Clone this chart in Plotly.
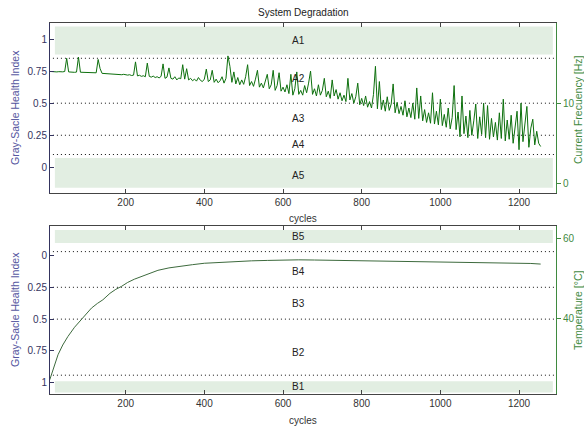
import plotly.graph_objects as go

# ---------------- data ----------------
cycles_top = list(range(10, 1256, 5))
freq_hz = [
    13.95, 13.92, 13.96, 13.90, 13.93, 13.88, 13.91, 13.95, 15.60, 13.90,
    13.87, 13.90, 13.85, 13.88, 15.75, 13.86, 13.84, 13.82, 13.85, 13.80,
    13.78, 13.80, 13.76, 13.79, 15.45, 14.30, 13.72, 13.70, 13.74, 13.68,
    13.70, 13.66, 13.60, 13.64, 13.58, 13.62, 13.55, 13.60, 13.52, 13.50,
    13.55, 13.45, 13.50, 15.15, 13.40, 13.48, 13.35, 13.42, 13.30, 15.00,
    13.35, 13.25, 13.38, 13.20, 13.30, 13.15, 13.35, 14.90, 13.10, 13.25,
    14.40, 13.10, 13.00, 13.30, 12.90, 13.15, 13.05, 14.80, 13.00, 14.30,
    12.90, 13.10, 12.80, 13.00, 12.75, 13.20, 12.85, 12.70, 13.00, 14.25,
    12.70, 12.90, 14.10, 12.60, 13.00, 12.55, 12.80, 13.30, 12.50, 13.10,
    15.90, 14.60, 12.60, 13.90, 12.40, 13.20, 12.30, 12.90, 12.35, 13.30,
    14.80, 12.20, 12.70, 12.10, 13.00, 14.10, 12.00, 12.50, 11.90, 12.80,
    13.60, 11.80, 12.30, 14.10, 11.60, 12.20, 13.80, 11.50, 12.00, 11.40,
    12.30, 11.20, 13.60, 11.00, 11.80, 13.90, 11.10, 11.60, 11.00, 12.20,
    11.30, 12.50, 14.00, 11.10, 11.80, 10.90, 12.30, 11.00, 11.60, 13.10,
    10.80, 11.50, 10.60, 12.90, 10.90, 11.70, 10.50, 11.30, 10.30, 11.00,
    10.20, 13.10, 10.40, 11.20, 10.00, 10.80, 12.50, 9.80, 10.60, 9.70,
    10.90, 9.50, 10.20, 9.40, 11.10, 14.60, 9.30, 12.70, 9.20, 10.40,
    9.00, 10.80, 9.10, 9.90, 12.40, 8.80, 10.10, 8.70, 9.60, 8.50,
    10.30, 8.30, 9.40, 8.20, 10.00, 8.00, 11.90, 8.10, 10.90, 7.80,
    9.20, 7.60, 8.80, 7.50, 11.30, 7.40, 9.00, 7.30, 10.50, 7.20,
    8.60, 7.00, 9.40, 6.80, 8.20, 12.20, 6.70, 8.90, 5.80, 10.90,
    6.20, 8.40, 5.70, 9.10, 6.00, 7.80, 9.90, 5.60, 8.30, 6.10,
    10.00, 5.70, 9.70, 5.50, 8.10, 5.80, 7.60, 5.40, 8.80, 5.60,
    10.50, 5.30, 7.90, 5.50, 8.50, 5.00, 7.40, 9.00, 4.20, 10.00,
    5.20, 7.80, 9.60, 4.50, 6.90, 8.00, 4.80, 6.50, 5.00, 4.60,
]

cycles_bottom = [7, 15, 28, 40, 53, 70, 87, 100, 113, 128, 142, 160, 175, 189,
                 205, 222, 240, 260, 282, 310, 341, 370, 400, 440, 474, 520,
                 560, 600, 640, 680, 720, 760, 800, 840, 880, 920, 960, 1000,
                 1040, 1080, 1120, 1160, 1200, 1230, 1255]
temp_c = [24.9, 27.2, 31.1, 33.5, 35.6, 37.9, 39.75, 41.2, 42.65, 43.8, 44.7,
          46.3, 47.3, 48.0, 49.0, 49.8, 50.5, 51.3, 52.0, 52.6, 53.1, 53.4,
          53.75, 54.0, 54.2, 54.35, 54.45, 54.55, 54.6, 54.55, 54.5, 54.45,
          54.4, 54.35, 54.3, 54.2, 54.05, 54.1, 54.0, 53.95, 53.9, 53.85,
          53.75, 53.7, 53.55]

x_ticks = [200, 400, 600, 800, 1000, 1200]
hi_ticks = [0, 0.25, 0.5, 0.75, 1]
hi_ticklabels = ["0", "0.25", "0.5", "0.75", "1"]
freq_ticks = [0, 10]
temp_ticks = [40, 60]

# zones (health-index units)
top_bands = [(0.88, 1.097), (-0.16, 0.073)]
top_dotted = [0.85, 0.5, 0.25, 0.1]
top_labels = [("A1", 0.985), ("A2", 0.69), ("A3", 0.377), ("A4", 0.18), ("A5", -0.06)]
bot_bands = [(-0.2, -0.097), (0.987, 1.075)]
bot_dotted = [-0.03, 0.25, 0.5, 0.94]
bot_labels = [("B5", -0.15), ("B4", 0.125), ("B3", 0.38), ("B2", 0.76), ("B1", 1.03)]

# ---------------- layout constants ----------------
W, H = 584, 429
FONT = "Liberation Sans, Arial, sans-serif"
LEFT_COL = "#34345e"
LEFT_TITLE_COL = "#5656a0"
RIGHT_COL = "#3f8a3f"
AX_COL = "#444444"
BAND_COL = "#e2eee2"

x_dom = [50 / W, 556 / W]
top_dom = [1 - 193 / H, 1 - 23 / H]
bot_dom = [1 - 394.3 / H, 1 - 225.5 / H]
x_range = [7.6, 1294]

fig = go.Figure()
fig.add_trace(go.Scatter(x=[], y=[], xaxis="x", yaxis="y", showlegend=False))
fig.add_trace(go.Scatter(x=cycles_top, y=freq_hz, xaxis="x", yaxis="y2", mode="lines",
                         line=dict(color="#0d700d", width=1), showlegend=False))
fig.add_trace(go.Scatter(x=[], y=[], xaxis="x2", yaxis="y3", showlegend=False))
fig.add_trace(go.Scatter(x=cycles_bottom, y=temp_c, xaxis="x2", yaxis="y4", mode="lines",
                         line=dict(color="#3d6a3d", width=1), showlegend=False))

shapes = []
band_x = [20, 1286]
for lo, hi in top_bands:
    shapes.append(dict(type="rect", xref="x", yref="y", x0=band_x[0], x1=band_x[1], y0=lo, y1=hi,
                       fillcolor=BAND_COL, line=dict(width=0), layer="below"))
for v in top_dotted:
    shapes.append(dict(type="line", xref="x", yref="y", x0=15, x1=1292, y0=v, y1=v,
                       line=dict(color="#111111", width=1, dash="1px,3px"), layer="below"))
for lo, hi in bot_bands:
    shapes.append(dict(type="rect", xref="x2", yref="y3", x0=band_x[0], x1=band_x[1], y0=lo, y1=hi,
                       fillcolor=BAND_COL, line=dict(width=0), layer="below"))
for v in bot_dotted:
    shapes.append(dict(type="line", xref="x2", yref="y3", x0=15, x1=1292, y0=v, y1=v,
                       line=dict(color="#111111", width=1, dash="1px,3px"), layer="below"))


def note(text, x, y, xref="paper", yref="paper", size=10, color="#222222", angle=0):
    return dict(text=text, x=x, y=y, xref=xref, yref=yref, showarrow=False,
                xanchor="center", yanchor="middle", textangle=angle,
                font=dict(size=size, color=color, family=FONT))


annotations = []
for t, v in top_labels:
    annotations.append(note(t, 640, v, "x", "y"))
for t, v in bot_labels:
    annotations.append(note(t, 640, v, "x2", "y3"))

annotations += [
    note("System Degradation", 303 / W, 1 - 12 / H),
    note("cycles", 303 / W, 1 - 218 / H, color="#333333"),
    note("cycles", 303 / W, 1 - 420 / H, color="#333333"),
    note("Gray-Sacle Health Index", 15 / W, 1 - 108 / H, size=10.5, color=LEFT_TITLE_COL, angle=-90),
    note("Gray-Sacle Health Index", 15 / W, 1 - 310 / H, size=10.5, color=LEFT_TITLE_COL, angle=-90),
    note("Current Frecuency [Hz]", 578 / W, 1 - 110 / H, size=10.5, color=RIGHT_COL, angle=-90),
    note("Temperature [°C]", 578 / W, 1 - 310 / H, size=10.5, color=RIGHT_COL, angle=-90),
]

xcommon = dict(range=x_range, domain=x_dom, tickvals=x_ticks, ticks="inside", ticklen=4,
               showline=True, linecolor=AX_COL, linewidth=1, mirror="ticks", tickcolor=AX_COL,
               showgrid=False, zeroline=False, tickfont=dict(size=10, color="#333333", family=FONT))
ycommon = dict(ticks="inside", ticklen=4, showline=True, linecolor=LEFT_COL, tickcolor=LEFT_COL,
               linewidth=1, showgrid=False, zeroline=False, tickvals=hi_ticks, ticktext=hi_ticklabels,
               tickfont=dict(size=10, color=LEFT_COL, family=FONT))
rcommon = dict(side="right", ticks="outside", ticklen=4, showline=True, linecolor=RIGHT_COL,
               tickcolor=RIGHT_COL, linewidth=1, showgrid=False, zeroline=False,
               tickfont=dict(size=10, color=RIGHT_COL, family=FONT))

fig.update_layout(
    width=W, height=H, margin=dict(l=0, r=0, t=0, b=0),
    paper_bgcolor="white", plot_bgcolor="white", showlegend=False,
    xaxis=dict(anchor="y", **xcommon),
    yaxis=dict(anchor="x", domain=top_dom, range=[-0.2, 1.125], **ycommon),
    yaxis2=dict(anchor="x", overlaying="y", range=[-1.2, 20], tickvals=freq_ticks, **rcommon),
    xaxis2=dict(anchor="y3", **xcommon),
    yaxis3=dict(anchor="x2", domain=bot_dom, range=[1.09, -0.235], **ycommon),
    yaxis4=dict(anchor="x2", overlaying="y3", range=[21.3, 63.1], tickvals=temp_ticks, **rcommon),
    shapes=shapes, annotations=annotations,
)

fig.write_html("out.html", config={"displayModeBar": False},
               post_script="document.body.style.margin='0';document.body.style.overflow='hidden';")
